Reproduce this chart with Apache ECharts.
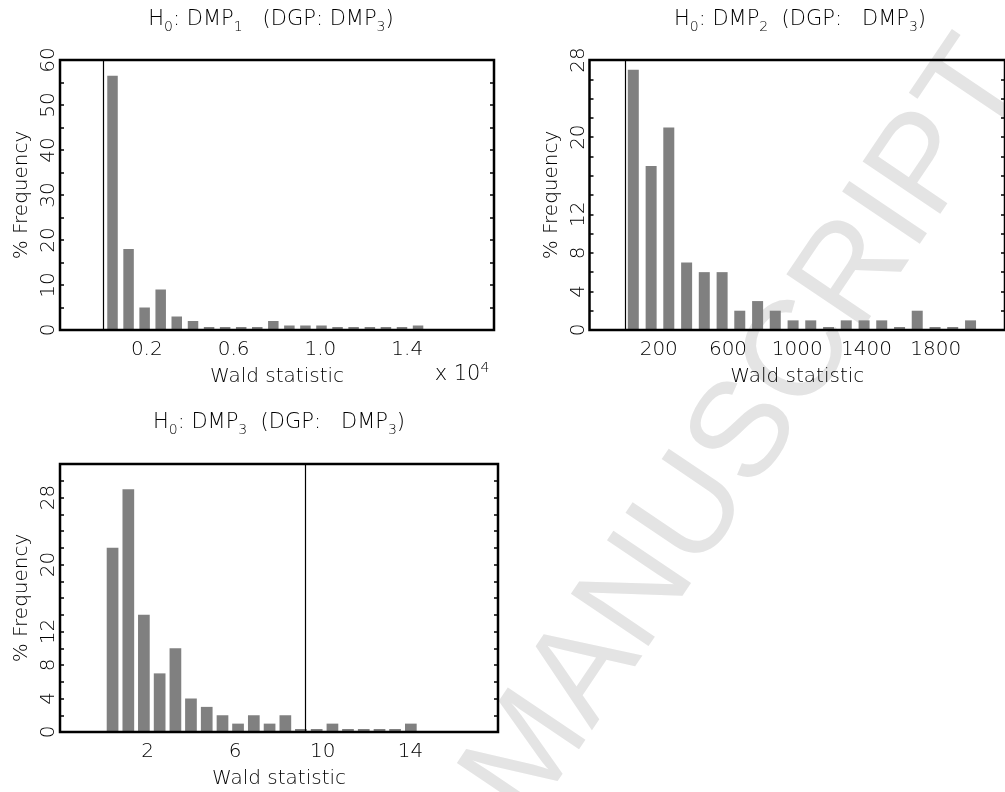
<!DOCTYPE html>
<html><head><meta charset="utf-8">
<script src="https://cdn.jsdelivr.net/npm/echarts@6/dist/echarts.min.js"></script>
<style>html,body{margin:0;padding:0;background:#fff}#c{width:1005px;height:792px}</style>
</head><body><div id="c"></div>
<script>
// ---- data ----
// Panel 1: H0 DMP1 (x axis in units of 10^4)
const p1Centers = [0.042, 0.116, 0.190, 0.264, 0.338, 0.413, 0.487, 0.561, 0.635, 0.709,
                   0.783, 0.857, 0.931, 1.005, 1.079, 1.153, 1.228, 1.302, 1.376, 1.450];
const p1Freq    = [56.5, 18, 5, 9, 3, 2, 0, 0, 0, 0, 2, 1, 1, 1, 0, 0, 0, 0, 0, 1];
// Panel 2: H0 DMP2
const p2Centers = [53, 156, 258, 361, 463, 566, 668, 771, 873, 976,
                   1078, 1181, 1283, 1386, 1488, 1591, 1693, 1796, 1898, 2001];
const p2Freq    = [27, 17, 21, 7, 6, 6, 2, 3, 2, 1, 1, 0, 1, 1, 1, 0, 2, 0, 0, 1];
// Panel 3: H0 DMP3
const p3Centers = [0.40, 1.12, 1.83, 2.55, 3.27, 3.98, 4.70, 5.42, 6.13, 6.85,
                   7.57, 8.29, 9.00, 9.72, 10.44, 11.15, 11.87, 12.59, 13.30, 14.02];
const p3Freq    = [22, 29, 14, 7, 10, 4, 3, 2, 1, 2, 1, 2, 0, 0, 1, 0, 0, 0, 0, 1];
// critical value of the Wald test (vertical line)
const critValue = 9.2;
// tick labels
const p1XLabels = ['0.2', '0.6', '1.0', '1.4'];
const p2XLabels = ['200', '600', '1000', '1400', '1800'];
const p3XLabels = ['2', '6', '10', '14'];
const p1YLabels = ['0', '10', '20', '30', '40', '50', '60'];
const p2YLabels = ['0', '4', '8', '12', '20', '28'];
const p3YLabels = ['0', '4', '8', '12', '20', '28'];

// ---- chart ----
const FONT = 'DejaVu Sans';
const FW = 200;
const FS = 20;
const chart = echarts.init(document.getElementById('c'), null, {renderer: 'canvas'});

function gridCfg(left, top, width, height) {
  return {left, top, width, height, show: true, borderColor: '#000', borderWidth: 2.5,
          backgroundColor: 'transparent', z: 3, containLabel: false};
}
function xAxisCfg(gi, min, max, interval, labels, digits) {
  return {
    type: 'value', gridIndex: gi, min, max, interval,
    axisLine: {show: false, onZero: false}, axisTick: {show: false}, splitLine: {show: false},
    axisLabel: {
      color: '#000', fontFamily: FONT, fontWeight: FW, fontSize: FS, margin: 10,
      showMinLabel: false, showMaxLabel: false,
      formatter: v => { const s = v.toFixed(digits); return labels.includes(s) ? s : ''; }
    },
    name: 'Wald statistic', nameLocation: 'middle', nameGap: 37,
    nameTextStyle: {color: '#000', fontFamily: FONT, fontWeight: FW, fontSize: FS}
  };
}
function yAxisCfg(gi, max, interval, labels, right) {
  const base = {
    type: 'value', gridIndex: gi, min: 0, max, interval,
    position: right ? 'right' : 'left',
    axisLine: {show: false, onZero: false}, splitLine: {show: false},
    axisTick: {show: true, inside: true, length: 4, lineStyle: {color: '#000', width: 1.5}}
  };
  if (right) {
    base.axisLabel = {show: false};
  } else {
    base.axisLabel = {
      color: '#000', fontFamily: FONT, fontWeight: FW, fontSize: FS, rotate: 90, margin: 1,
      formatter: v => { const s = String(Math.round(v)); return labels.includes(s) ? s : ''; }
    };
    base.name = '% Frequency';
    base.nameLocation = 'middle';
    base.nameRotate = 90;
    base.nameGap = 28;
    base.nameTextStyle = {color: '#000', fontFamily: FONT, fontWeight: FW, fontSize: FS};
  }
  return base;
}
function barSeries(gi, centers, freq, barWidth, crit) {
  return {
    type: 'bar', xAxisIndex: gi, yAxisIndex: gi * 2,
    data: centers.map((c, i) => [c, freq[i]]),
    barWidth, barMinHeight: 3,
    itemStyle: {color: '#808080'},
    silent: true,
    markLine: {
      silent: true, symbol: ['none', 'none'], label: {show: false},
      lineStyle: {color: '#000', width: 1.2, type: 'solid'},
      data: [{xAxis: crit}]
    }
  };
}
const rich = {
  n: {fontFamily: FONT, fontWeight: FW, fontSize: 21, lineHeight: 26, fill: '#000'},
  s: {fontFamily: FONT, fontWeight: FW, fontSize: 14, lineHeight: 26, padding: [14, 0, 0, 0], fill: '#000'},
  u: {fontFamily: FONT, fontWeight: FW, fontSize: 14, lineHeight: 26, padding: [0, 0, 14, 0], fill: '#000'}
};
function titleEl(x, y, text) {
  return {type: 'text', x, y, z: 10, silent: true,
          style: {text, rich, align: 'center', verticalAlign: 'middle',
                  textAlign: 'center', textVerticalAlign: 'middle'}};
}

const option = {
  animation: false,
  backgroundColor: '#fff',
  grid: [
    gridCfg(60, 60, 434, 270),
    gridCfg(589.5, 60, 422.5, 270),
    gridCfg(60, 464, 438, 268)
  ],
  xAxis: [
    xAxisCfg(0, -0.2, 1.8, 0.4, p1XLabels, 1),
    xAxisCfg(1, -200, 2200, 400, p2XLabels, 0),
    xAxisCfg(2, -2, 18, 4, p3XLabels, 0)
  ],
  yAxis: [
    yAxisCfg(0, 60, 5, p1YLabels, false), yAxisCfg(0, 60, 5, p1YLabels, true),
    yAxisCfg(1, 28, 2, p2YLabels, false), yAxisCfg(1, 28, 2, p2YLabels, true),
    yAxisCfg(2, 32, 2, p3YLabels, false), yAxisCfg(2, 32, 2, p3YLabels, true)
  ],
  series: [
    barSeries(0, p1Centers, p1Freq, 10.5, critValue / 10000),
    barSeries(1, p2Centers, p2Freq, 11, critValue),
    barSeries(2, p3Centers, p3Freq, 11.7, critValue)
  ],
  graphic: {elements: [
    {type: 'text', x: 1000, y: 58, rotation: 56 * Math.PI / 180, z: -10, silent: true,
     style: {text: 'ACCEPTED MANUSCRIPT', fill: '#e4e4e4', font: '136px "Liberation Sans"',
             align: 'right', verticalAlign: 'middle', textAlign: 'right', textVerticalAlign: 'middle'}},
    titleEl(271, 20, '{n|H}{s|0}{n|: DMP}{s|1}{n|   (DGP: DMP}{s|3}{n|)}'),
    titleEl(800, 20, '{n|H}{s|0}{n|: DMP}{s|2}{n|  (DGP:   DMP}{s|3}{n|)}'),
    titleEl(279, 423, '{n|H}{s|0}{n|: DMP}{s|3}{n|  (DGP:   DMP}{s|3}{n|)}'),
    titleEl(462, 375, '{n|x 10}{u|4}')
  ]}
};
chart.setOption(option);
</script></body></html>
